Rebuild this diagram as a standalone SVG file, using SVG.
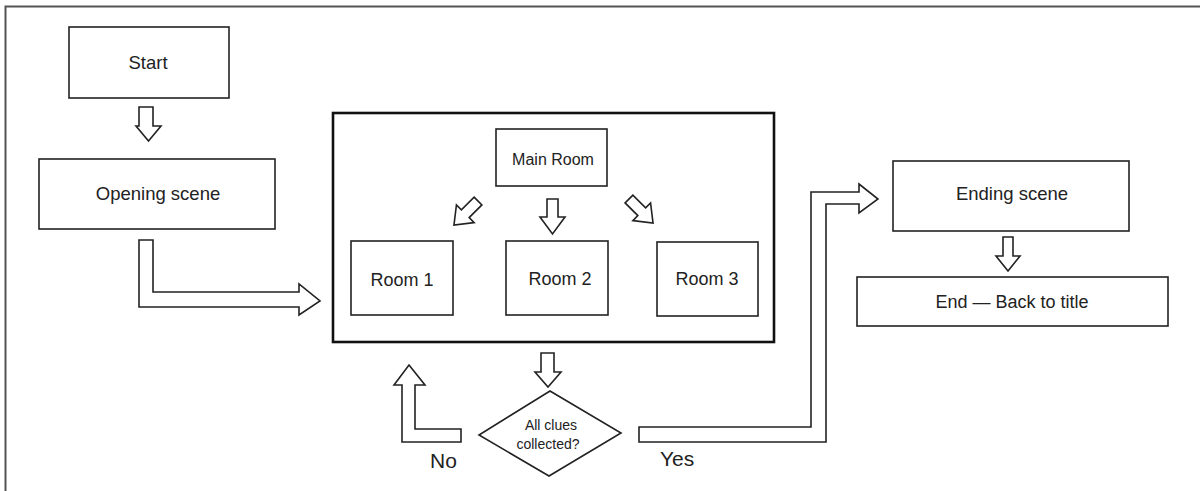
<svg xmlns="http://www.w3.org/2000/svg" width="1200" height="491" viewBox="0 0 1200 491">
  <style>
    .box { fill: #fff; stroke: #222; stroke-width: 1.6; }
    .big { fill: none; stroke: #111; stroke-width: 2.6; }
    .arr { fill: #fff; stroke: #222; stroke-width: 1.6; stroke-linejoin: miter; }
    .t { font-family: "Liberation Sans", Arial, sans-serif; fill: #222; text-anchor: middle; dominant-baseline: central; }
    .lbl { font-family: "Liberation Sans", Arial, sans-serif; fill: #222; font-size: 21px; }
  </style>
  <rect width="1200" height="491" fill="#fff"/>
  <path d="M5.5,491 V6.5 H1200" fill="none" stroke="#555" stroke-width="2"/>

  <g id="rooms-area">
    <rect class="big" x="333" y="113" width="441" height="229"/>
  </g>

  <g id="connectors">
    <path class="arr" d="M139,107 H153 V126 H161 L148.5,141 L136,126 H139 Z"/>
    <path class="arr" d="M139,240 H153 V292 H299 V284 L320,301 L299,315 V307 H139 Z"/>
    <path class="arr" transform="translate(478,201) rotate(45)" d="M-5.5,0 H5.5 V18 H12.5 L0,34 L-12.5,18 H-5.5 Z"/>
    <path class="arr" d="M547,199 H558 V217 H565 L552.5,234 L540,217 H547 Z"/>
    <path class="arr" transform="translate(629,199) rotate(-45)" d="M-5.5,0 H5.5 V18 H12.5 L0,34 L-12.5,18 H-5.5 Z"/>
    <path class="arr" d="M541,353 H554 V372 H561 L548,387 L535,372 H541 Z"/>
    <path class="arr" d="M409,365 L425,385 H415 V429 H461 V442 H402 V385 H394 Z"/>
    <path class="arr" d="M639,427 H811 V192 H859 V184 L878,199 L859,213 V204 H826 V442 H639 Z"/>
    <path class="arr" d="M1003,237 H1013 V256 H1020 L1008,271 L996,256 H1003 Z"/>
  </g>

  <g id="start">
    <rect class="box" x="69" y="27" width="160" height="71"/>
    <text class="t" x="148" y="62" font-size="18.5">Start</text>
  </g>
  <g id="opening">
    <rect class="box" x="39" y="159" width="236" height="70"/>
    <text class="t" x="158" y="193" font-size="18.5">Opening scene</text>
  </g>
  <g id="main-room">
    <rect class="box" x="496" y="129" width="111" height="57"/>
    <text class="t" x="553" y="159" font-size="16">Main Room</text>
  </g>
  <g id="room1">
    <rect class="box" x="351" y="241" width="102" height="74"/>
    <text class="t" x="402" y="280" font-size="18">Room 1</text>
  </g>
  <g id="room2">
    <rect class="box" x="506" y="241" width="102" height="74"/>
    <text class="t" x="560" y="279" font-size="18">Room 2</text>
  </g>
  <g id="room3">
    <rect class="box" x="657" y="242" width="101" height="74"/>
    <text class="t" x="707" y="279" font-size="18">Room 3</text>
  </g>
  <g id="decision">
    <polygon class="box" points="550,391 621,433 549,476 479,435"/>
    <text class="t" x="551" y="425" font-size="14">All clues</text>
    <text class="t" x="548" y="444" font-size="14">collected?</text>
  </g>
  <g id="label-no">
    <text class="lbl" x="430" y="468">No</text>
  </g>
  <g id="label-yes">
    <text class="lbl" x="660" y="466">Yes</text>
  </g>
  <g id="ending">
    <rect class="box" x="893" y="161" width="236" height="70"/>
    <text class="t" x="1012" y="193" font-size="18.5">Ending scene</text>
  </g>
  <g id="end">
    <rect class="box" x="857" y="277" width="311" height="49"/>
    <text class="t" x="1012" y="302" font-size="18">End — Back to title</text>
  </g>
</svg>
